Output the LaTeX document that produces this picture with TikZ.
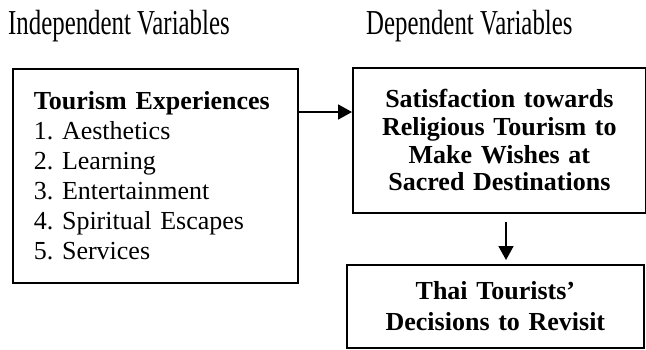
\documentclass[tikz,border=0pt]{standalone}
\usepackage{graphicx}
\usepackage{fontspec}
\setmainfont{Liberation Serif}
\usetikzlibrary{arrows.meta,positioning}
\frenchspacing

\begin{document}
\begin{tikzpicture}[x=1pt, y=-1pt, >={Triangle[length=14pt,width=15pt]},
          heading/.style={anchor=base west, inner sep=0pt,
            font=\fontsize{35}{35}\selectfont},
          varbox/.style={draw, line width=1.8pt, inner sep=0pt, anchor=north west},
          link/.style={->, line width=1.8pt}]
          \useasboundingbox (0,0) rectangle (646,349);

          \node[heading] (indep) at (8,34) {\scalebox{0.71}[1]{Independent Variables}};
          \node[heading] (dep) at (366,34) {\scalebox{0.71}[1]{Dependent Variables}};

          \node[varbox, minimum width=285pt, minimum height=214pt, text width=243pt,
            align=left, font=\fontsize{26}{30}\selectfont] (exp) at (12,68)
            {\textbf{Tourism Experiences}\\1. Aesthetics\\2. Learning\\
             3. Entertainment\\4. Spiritual Escapes\\5. Services};
          \node[varbox, minimum width=293pt, minimum height=145pt, text width=293pt,
            align=center, font=\fontsize{26}{27.7}\bfseries] (sat) at (352,67)
            {Satisfaction towards\\Religious Tourism to\\Make Wishes at\\Sacred Destinations};
          \node[varbox, minimum width=297pt, minimum height=83pt, text width=297pt,
            align=center, font=\fontsize{26}{31}\bfseries] (rev) at (346,264)
            {Thai Tourists'\\Decisions to Revisit};

          \draw[link] (exp.east |- 0,112) -- (sat.west |- 0,112);
          \draw[link, shorten <=8pt, shorten >=4pt] (sat.south -| 506,0) -- (rev.north -| 506,0);
        \end{tikzpicture}
\end{document}
